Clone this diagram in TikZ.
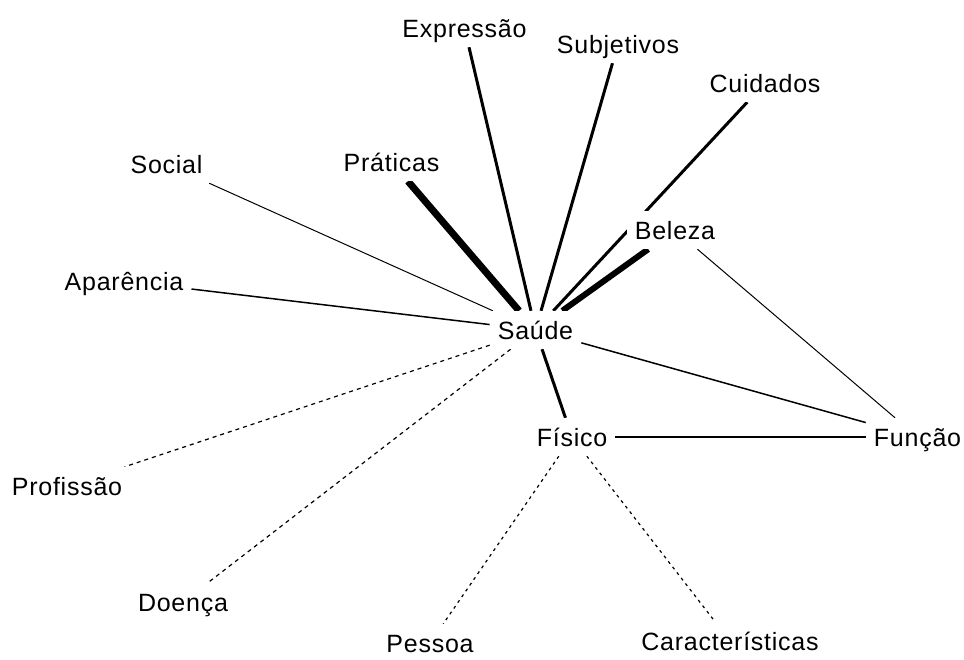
\documentclass[tikz,border=0pt]{standalone}
\usepackage{fontspec}
\setmainfont{Liberation Sans}[LetterSpace=3]
\usetikzlibrary{backgrounds}
\begin{document}
\begin{tikzpicture}[x=1pt,y=-1pt,
  term/.style={fill=white,inner xsep=8pt,inner ysep=10pt,text height=18pt,text depth=0pt,
    font=\fontsize{25}{25}\selectfont},
  hair/.style={line width=1pt},
  thin/.style={line width=1.5pt},
  bold/.style={line width=3pt},
  heavy/.style={line width=7pt},
  heavier/.style={line width=6pt},
  dashlink/.style={line width=1.2pt,dash pattern=on 4pt off 4pt},
  dotlink/.style={line width=1.2pt,dash pattern=on 3pt off 4pt}]
\useasboundingbox (0,0) rectangle (964,659);

% terms of the network
\node[term] (saude) at (535.5,330) {Saúde};
\node[term] (expr)  at (464.5,28)  {Expressão};
\node[term] (subj)  at (618,44)    {Subjetivos};
\node[term] (cuid)  at (765,83)    {Cuidados};
\node[term] (prat)  at (391.5,162) {Práticas};
\node[term] (soc)   at (166.5,164) {Social};
\node[term] (apar)  at (124,281)   {Aparência};
\node[term] (bel)   at (675,230)   {Beleza};
\node[term] (fis)   at (572,437)   {Físico};
\node[term] (func)  at (917.5,437) {Função};
\node[term] (prof)  at (67,486)    {Profissão};
\node[term] (doen)  at (183,602)   {Doença};
\node[term] (pess)  at (430,643)   {Pessoa};
\node[term] (carac) at (730,641)   {Características};

% links, kept behind the labels
\begin{scope}[on background layer]
  \fill[white] (0,0) rectangle (964,659);
  \draw[bold]    (expr) -- (saude);
  \draw[bold]    (subj) -- (saude);
  \draw[bold]    (cuid) -- (saude);
  \draw[heavy]   (prat) -- (saude);
  \draw[heavier] (bel)  -- (saude);
  \draw[hair]    (soc)  -- (saude);
  \draw[thin]    (apar) -- (saude);
  \draw[thin]    (saude) -- (func);
  \draw[hair]    (bel)  -- (func);
  \draw[thin]    (fis)  -- (func);
  \draw[bold]    (saude) -- (fis);
  \draw[dashlink] (saude) -- (prof);
  \draw[dashlink] (saude) -- (doen);
  \draw[dotlink]  (fis) -- (pess);
  \draw[dotlink]  (fis) -- (carac);
\end{scope}
\end{tikzpicture}
\end{document}
